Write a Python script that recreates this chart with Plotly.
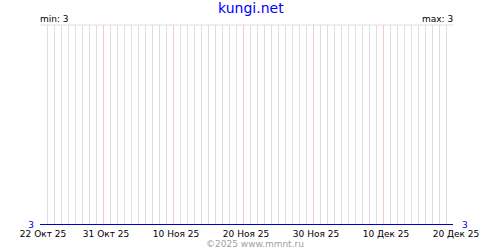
import plotly.graph_objects as go
import pandas as pd

dates = pd.date_range("2025-10-22", "2025-12-20", freq="D")
values = [3] * len(dates)
tick_dates = ["2025-10-22", "2025-10-31", "2025-11-10", "2025-11-20", "2025-11-30", "2025-12-10", "2025-12-20"]
tick_labels = ["22 Окт 25", "31 Окт 25", "10 Ноя 25", "20 Ноя 25", "30 Ноя 25", "10 Дек 25", "20 Дек 25"]
title_text = "kungi.net"
min_text = "min: 3"
max_text = "max: 3"
credit_text = "©2025 www.mmnt.ru"

date_str = [d.strftime("%Y-%m-%d") for d in dates]
day_grid = [d for d in date_str if d not in tick_dates]

F = "DejaVu Sans"
fig = go.Figure()
fig.add_trace(go.Scatter(x=date_str, y=values, mode="lines", line=dict(color="#0000cc", width=1), hoverinfo="skip"))
fig.add_trace(go.Scatter(x=date_str, y=values, mode="lines", line=dict(color="#0000cc", width=1),
                         xaxis="x2", yaxis="y2", hoverinfo="skip"))

yr = [2.9975, 4]
xr = [date_str[0], date_str[-1]]
fig.update_layout(
    width=500, height=250,
    margin=dict(l=40, r=47, t=25, b=25),
    paper_bgcolor="white", plot_bgcolor="white",
    showlegend=False,
    xaxis=dict(
        type="date", range=xr,
        tickvals=tick_dates, ticktext=tick_labels,
        showgrid=True, gridcolor="#ffc4c4", gridwidth=1,
        tickfont=dict(family=F, size=9, color="black"),
        ticks="", showline=False, zeroline=False,
        ticklabelstandoff=2, ticklabelshift=3,
    ),
    xaxis2=dict(
        type="date", range=xr, overlaying="x", matches="x", anchor="y",
        tickvals=day_grid, showticklabels=False,
        showgrid=True, gridcolor="#dedede", gridwidth=1,
        ticks="", showline=False, zeroline=False,
    ),
    yaxis=dict(
        range=yr, tickvals=[3], ticktext=["3"],
        showgrid=False, zeroline=False, showline=False, ticks="",
        tickfont=dict(family=F, size=9, color="#0000cc"),
        ticklabelstandoff=5,
    ),
    yaxis2=dict(
        range=yr, tickvals=[3], ticktext=["3"], overlaying="y", side="right", anchor="x2",
        showgrid=False, zeroline=False, showline=False, ticks="",
        tickfont=dict(family=F, size=9, color="#0000cc"),
        ticklabelstandoff=8,
    ),
    shapes=[dict(type="line", xref="paper", yref="paper", x0=0, x1=1, y0=1, y1=1,
                 line=dict(color="#dedede", width=1), layer="below")],
    annotations=[
        dict(text=title_text, xref="paper", yref="paper", x=(251-40)/413, y=1.085, xanchor="center", yanchor="middle",
             showarrow=False, font=dict(family=F, size=14, color="#0000ff")),
        dict(text=min_text, xref="paper", yref="paper", x=0, y=1.0, xanchor="left", yanchor="bottom",
             showarrow=False, font=dict(family=F, size=9, color="black"), xshift=-2, yshift=-1),
        dict(text=max_text, xref="paper", yref="paper", x=1, y=1.0, xanchor="right", yanchor="bottom",
             showarrow=False, font=dict(family=F, size=9, color="black"), xshift=2, yshift=-1),
        dict(text=credit_text, xref="paper", yref="paper", x=(255-40)/413, y=-0.095, xanchor="center", yanchor="middle",
             showarrow=False, font=dict(family=F, size=9, color="#a0a0a0")),
    ],
)
fig.write_html("out.html")
